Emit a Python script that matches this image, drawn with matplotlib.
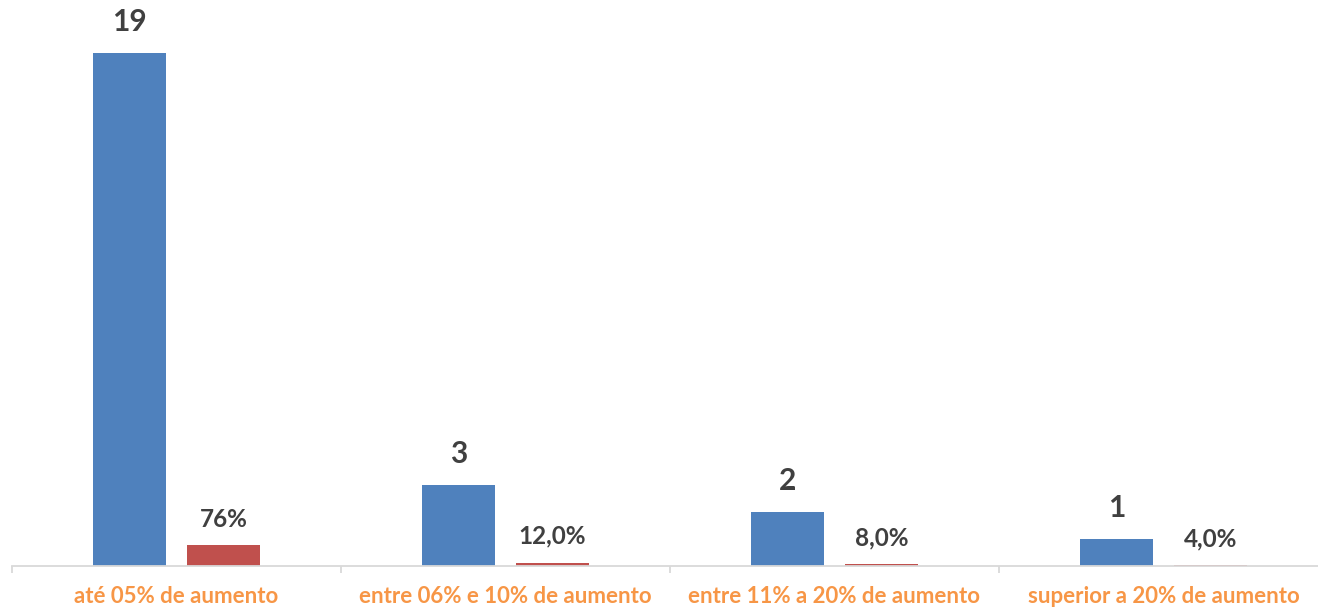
import matplotlib.pyplot as plt
import numpy as np

categories = ['até 05% de aumento', 'entre 06% e 10% de aumento',
              'entre 11% a 20% de aumento', 'superior a 20% de aumento']
counts = [19, 3, 2, 1]
shares = [0.76, 0.12, 0.08, 0.04]
share_labels = ['76%', '12,0%', '8,0%', '4,0%']

blue = '#4F81BD'
red = '#C0504D'
txt = '#404040'
orange = '#F79646'
font = ['Lato', 'DejaVu Sans']

fig = plt.figure(figsize=(13.18, 6.07), dpi=100)
# axes run a bit past the right edge, like the original crop
ax = fig.add_axes([12 / 1318, 41 / 607, 1316 / 1318, 566 / 607])

x = np.arange(len(categories))
w = 0.222
off = 0.143
ax.bar(x - off, counts, w, color=blue)
ax.bar(x + off, shares, w, color=red)

ax.set_xlim(-0.5, len(categories) - 0.5)
ax.set_ylim(0, 566 / 27.0)

for xi, c in zip(x, counts):
    ax.annotate(str(c), (xi - off, c), xytext=(0, 22), textcoords='offset points',
                ha='center', va='center', fontsize=21.5, fontweight='bold',
                color=txt, family=font)
for xi, s, lab in zip(x, shares, share_labels):
    ax.annotate(lab, (xi + off, s), xytext=(0, 19), textcoords='offset points',
                ha='center', va='center', fontsize=17.5, fontweight='bold',
                color=txt, family=font)

for s in ['top', 'right', 'left']:
    ax.spines[s].set_visible(False)
ax.spines['bottom'].set_color('#D9D9D9')
ax.spines['bottom'].set_linewidth(1.3)
ax.set_yticks([])
ax.set_xticks(np.arange(len(categories) + 1) - 0.5)
ax.set_xticklabels([])
ax.tick_params(axis='x', length=5, width=1.3, color='#D9D9D9')

for xi, cat in zip(x, categories):
    ax.annotate(cat, (xi, 0), xytext=(0, -22), textcoords='offset points',
                ha='center', va='center', fontsize=16, fontweight='bold',
                color=orange, family=font, annotation_clip=False)

fig.savefig('out.png', dpi=100)
